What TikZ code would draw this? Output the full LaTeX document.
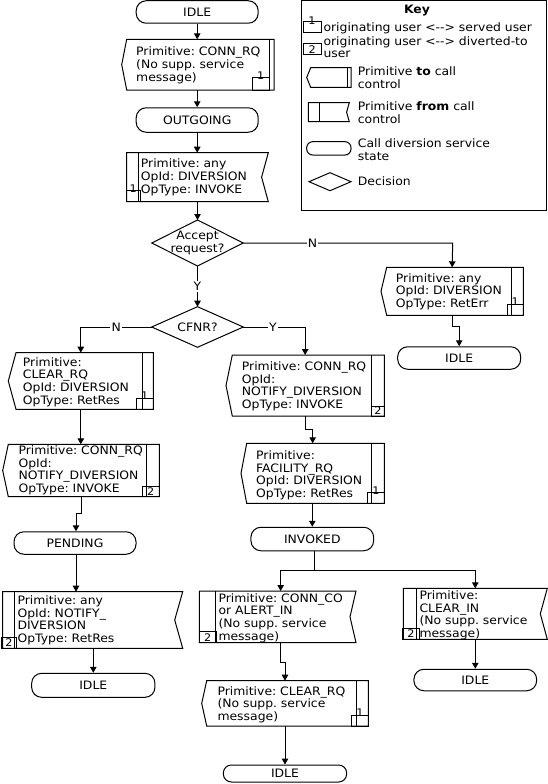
\documentclass[tikz,border=0pt]{standalone}
\usepackage{fontspec}
\setmainfont{DejaVu Sans}[FakeStretch=1.07]
\usetikzlibrary{arrows.meta,calc,fit}
\frenchspacing

\newcommand\ToShape[3]{%
  \draw[shp] ([xshift=#2]#1.north west) -- (#1.north east) -- (#1.south east) -- ([xshift=#2]#1.south west) -- (#1.west) -- cycle;
  \draw[shp] ([xshift=-#3]#1.north east) -- ([xshift=-#3]#1.south east);}
\newcommand\FromShape[3]{%
  \draw[shp] (#1.north west) -- (#1.north east) -- ([xshift=-#2]#1.east) -- (#1.south east) -- (#1.south west) -- cycle;
  \draw[shp] ([xshift=#3]#1.north west) -- ([xshift=#3]#1.south west);}
\newcommand\Frame[5]{\node[frm, fit={(#2,#3) (#4,#5)}] (#1) {};}
\newcommand\NumBox[5]{\node[nbox, fit={(#2,#3) (#4,#5)}] (#1) {};}

\begin{document}
\frenchspacing
\begin{tikzpicture}[x=1pt,y=-1pt,
  every node/.style={font=\fontsize{11.6}{12.7}\selectfont},
  shp/.style={draw=black, line width=1pt, line join=miter},
  frm/.style={inner sep=0pt, outer sep=0pt},
  nbox/.style={draw=black, line width=1pt, inner sep=0pt, outer sep=0pt},
  ntxt/.style={inner sep=0pt, font=\fontsize{10.5}{11}\selectfont},
  txt/.style={anchor=base west, inner sep=0pt, align=left, text width=260pt},
  state/.style={draw=black, line width=1pt, rounded corners=10pt, inner sep=0pt},
  lbl/.style={fill=white, inner sep=1.2pt},
  arr/.style={draw=black, line width=1pt, -{Triangle[length=6pt,width=6.5pt]}},
  ln/.style={draw=black, line width=1pt}
]
\useasboundingbox (0,0) rectangle (548,784);

% ---------------- Key ----------------
\node[draw=black, line width=1pt, inner sep=0pt, fit={(301.7,1) (546.7,210)}] (key) {};
\node[font=\fontsize{11.6}{12.7}\selectfont\bfseries] (keyt) at (417,11) {Key};
\NumBox{kb1}{303.3}{21.7}{321}{32.3}
\node[ntxt] (kb1t) at (312,20.5) {1};
\node[txt] (k1) at (323.3,31.6) {originating user <-\kern0pt-> served user};
\NumBox{kb2}{303.3}{43.3}{321}{55}
\node[ntxt] (kb2t) at (kb2) {2};
\node[txt, font=\fontsize{11.6}{11.8}\selectfont] (k2) at (323.3,46) {originating user <-\kern0pt-> diverted-to\\user};
\Frame{ks1}{306.7}{67.7}{351}{87.3}
\ToShape{ks1}{4pt}{3.7pt}
\node[txt] (k3) at (357.7,75.3) {Primitive \textbf{to} call\\control};
\Frame{ks2}{308.3}{102.7}{349.3}{121.7}
\FromShape{ks2}{2.7pt}{11pt}
\node[txt] (k4) at (357.7,110.3) {Primitive \textbf{from} call\\control};
\node[state, rounded corners=6pt, fit={(306.7,141.7) (351,155)}] (ks3) {};
\node[txt] (k5) at (357.7,147.6) {Call diversion service\\state};
\Frame{ks4}{309}{172.7}{351}{190.7}
\draw[shp] (ks4.north) -- (ks4.east) -- (ks4.south) -- (ks4.west) -- cycle;
\node[txt] (k6) at (357.7,185.3) {Decision};

% ---------------- States ----------------
\node[state, minimum width=122pt, minimum height=22.5pt] (s1) at (197.2,12) {IDLE};
\node[state, minimum width=122pt, minimum height=24.5pt] (s2) at (197.2,120) {OUTGOING};
\node[state, minimum width=123pt, minimum height=22.5pt] (s3) at (459.2,358) {IDLE};
\node[state, minimum width=122pt, minimum height=22.5pt] (s4) at (75,543) {PENDING};
\node[state, minimum width=122.7pt, minimum height=23.5pt] (s5) at (312.3,539) {INVOKED};
\node[state, minimum width=123.3pt, minimum height=24pt] (s6) at (93.3,685.3) {IDLE};
\node[state, minimum width=122.7pt, minimum height=21.5pt] (s7) at (475.3,680) {IDLE};
\node[state, minimum width=123.3pt, minimum height=17pt, rounded corners=8pt] (s8) at (285,773.5) {IDLE};

% ---------------- Decisions ----------------
\Frame{d1}{151.7}{220}{243.3}{266}
\draw[shp] (d1.north) -- (d1.east) -- (d1.south) -- (d1.west) -- cycle;
\node[align=center, inner sep=0pt] (d1t) at (197.5,243) {Accept\\request?};
\Frame{d2}{151.7}{306.7}{243.3}{347.3}
\draw[shp] (d2.north) -- (d2.east) -- (d2.south) -- (d2.west) -- cycle;
\node[inner sep=0pt] (d2t) at (197.5,327) {CFNR?};

% ---------------- Primitives ----------------
% P1 to
\Frame{p1}{121.7}{39.3}{274}{90}
\ToShape{p1}{5pt}{4.7pt}
\NumBox{p1b}{252.3}{77.7}{269.3}{90}
\node[ntxt] (p1n) at (260.8,75.3) {1};
\node[txt] (p1t) at (136,56) {Primitive: CONN\_RQ\\(No supp. service\\message)};
% P2 from
\Frame{p2}{126.7}{152.7}{268.3}{201.7}
\FromShape{p2}{6.7pt}{11.6pt}
\NumBox{p2b}{126.7}{190.7}{140}{201.7}
\node[ntxt] (p2n) at (133.3,188.5) {1};
\node[txt] (p2t) at (140.7,167.6) {Primitive: any\\OpId: DIVERSION\\OpType: INVOKE};
% P3 to
\Frame{p3}{381}{267.3}{523.3}{315.3}
\ToShape{p3}{5.7pt}{11.6pt}
\NumBox{p3b}{507}{304}{523.3}{315.3}
\node[ntxt] (p3n) at (515.2,302) {1};
\node[txt] (p3t) at (395.7,282) {Primitive: any\\OpId: DIVERSION\\OpType: RetErr};
% P4 to
\Frame{p4}{8.3}{352.7}{153.3}{409.3}
\ToShape{p4}{7.7pt}{11.3pt}
\NumBox{p4b}{136}{398.3}{153.3}{409.3}
\node[ntxt] (p4n) at (144.6,396) {1};
\node[txt] (p4t) at (22.7,366) {Primitive:\\CLEAR\_RQ\\OpId: DIVERSION\\OpType: RetRes};
% P5 to
\Frame{p5}{2.7}{444.3}{159.3}{496.7}
\ToShape{p5}{5.6pt}{12.6pt}
\NumBox{p5b}{142.3}{486.7}{159.3}{496.7}
\node[ntxt] (p5n) at (p5b) {2};
\node[txt] (p5t) at (18.3,454.3) {Primitive: CONN\_RQ\\OpId:\\NOTIFY\_DIVERSION\\OpType: INVOKE};
% P6 from
\Frame{p6}{2.7}{591.7}{182.7}{648.3}
\FromShape{p6}{8pt}{12pt}
\NumBox{p6b}{1.7}{637}{16.3}{648.3}
\node[ntxt] (p6n) at (p6b) {2};
\node[txt] (p6t) at (17.3,604.3) {Primitive: any\\OpId: NOTIFY\_\\DIVERSION\\OpType: RetRes};
% P7 to
\Frame{p7}{226}{355}{384.3}{416}
\ToShape{p7}{6.3pt}{12.6pt}
\NumBox{p7b}{371.7}{406}{384.3}{416}
\node[ntxt] (p7n) at (p7b) {2};
\node[txt] (p7t) at (241.7,370.3) {Primitive: CONN\_RQ\\OpId:\\NOTIFY\_DIVERSION\\OpType: INVOKE};
% P8 to
\Frame{p8}{241}{443.3}{384.3}{503.3}
\ToShape{p8}{5.7pt}{12.6pt}
\NumBox{p8b}{367.7}{492.7}{384.3}{503.3}
\node[ntxt] (p8n) at (376,490.5) {1};
\node[txt] (p8t) at (256,459.3) {Primitive:\\FACILITY\_RQ\\OpId: DIVERSION\\OpType: RetRes};
% P9 from
\Frame{p9}{199.3}{591}{356}{642.7}
\FromShape{p9}{6pt}{15.7pt}
\NumBox{p9b}{199.3}{631.7}{216}{642.7}
\node[ntxt] (p9n) at (p9b) {2};
\node[txt] (p9t) at (218.3,602) {Primitive: CONN\_CO\\or ALERT\_IN\\(No supp. service\\message)};
% P10 to
\Frame{p10}{201.7}{680.7}{368.3}{726}
\ToShape{p10}{5pt}{12.3pt}
\NumBox{p10b}{351.7}{715}{368.3}{726}
\node[ntxt] (p10n) at (360,712.7) {1};
\node[txt] (p10t) at (217.3,695) {Primitive: CLEAR\_RQ\\(No supp. service\\message)};
% P11 from
\Frame{p11}{403.3}{588.3}{547.3}{639.3}
\FromShape{p11}{7pt}{13.4pt}
\NumBox{p11b}{402.7}{628.3}{419.3}{639.3}
\node[ntxt] (p11n) at (p11b) {2};
\node[txt] (p11t) at (419.3,599.3) {Primitive:\\CLEAR\_IN\\(No supp. service\\message)};

% ---------------- Connectors ----------------
\draw[arr] (s1.south) -- (s1.south |- p1.north);
\draw[arr] (s2.north |- p1.south) -- (s2.north);
\draw[arr] (s2.south) -- (s2.south |- p2.north);
\draw[arr] (d1.north |- p2.south) -- (d1.north);
\draw[arr] (d1.south) -- node[lbl] (ly1) {Y} (d2.north);
\draw[arr] (d1.east) -- node[lbl, pos=0.33] (ln1) {N} ++(209.4,0) -- (p3.north);
\draw[arr] (p3.south) -- ++(0,11.4) -| (s3.north);
\draw[arr] (d2.west) -- node[lbl, pos=0.5] (ln2) {N} (d2.west -| p4.north) -- (p4.north);
\draw[arr] (d2.east) -- node[lbl, pos=0.48] (ly2) {Y} (d2.east -| p7.north) -- (p7.north);
\draw[arr] (p4.south) -- (p4.south |- p5.north);
\draw[arr] (p5.south) -- ++(0,16.6) -| ([xshift=1pt]s4.north);
\draw[arr] ([xshift=1pt]s4.south) -- ([xshift=1pt]s4.south |- p6.north);
\draw[arr] (s6.north |- p6.south) -- (s6.north);
\draw[arr] (p7.south) -- ++(0,13.3) -| (p8.north);
\draw[arr] (s5.north |- p8.south) -- (s5.north);
\coordinate (j1) at ($(s5.south)+(1.7,19)$);
\draw[ln] ([xshift=1.7pt]s5.south) -- (j1);
\draw[arr] (j1) -| ([xshift=3pt]p9.north);
\draw[arr] (j1) -| (p11.north);
\draw[arr] ([xshift=3pt]p9.south) -- ++(0,20) -| (p10.north);
\draw[arr] (s8.north |- p10.south) -- (s8.north);
\draw[arr] (s7.north |- p11.south) -- (s7.north);
\end{tikzpicture}
\end{document}
